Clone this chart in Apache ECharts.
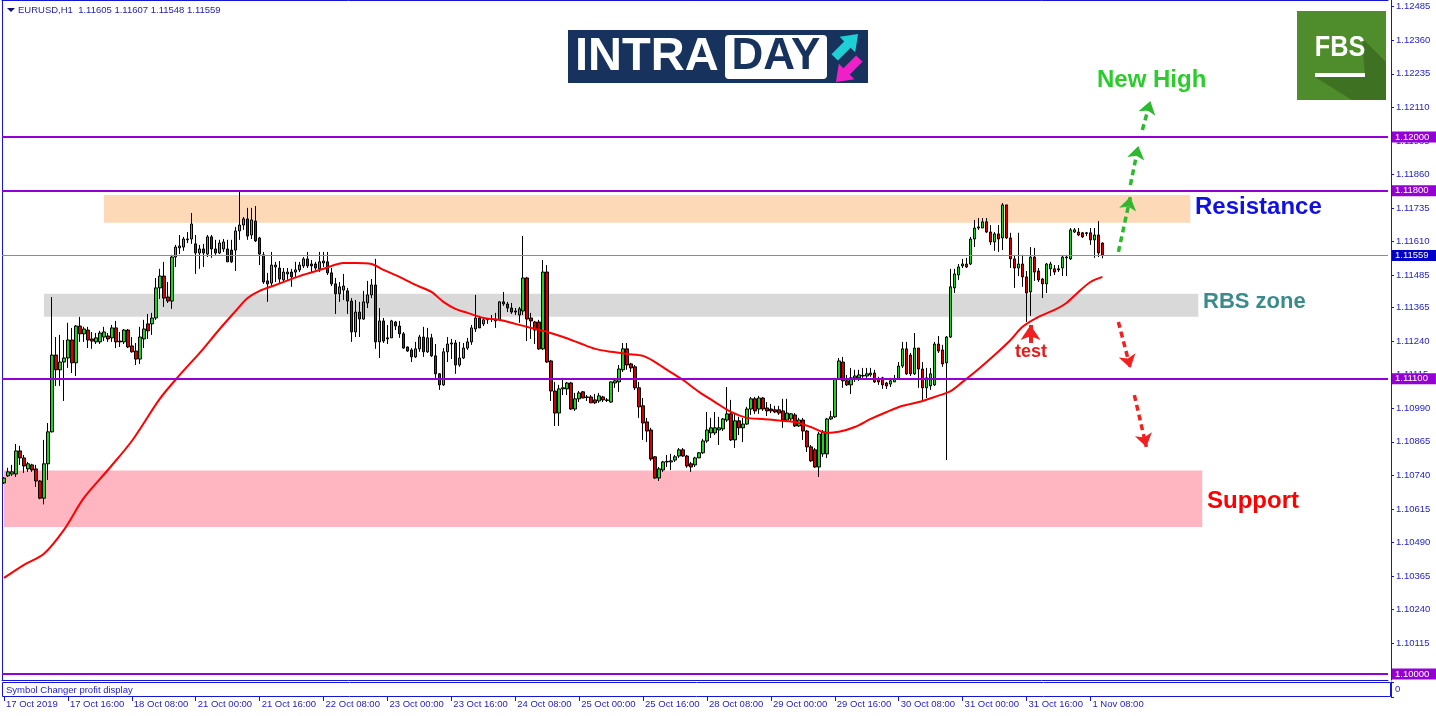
<!DOCTYPE html>
<html><head><meta charset="utf-8">
<script src="https://cdn.jsdelivr.net/npm/echarts@6/dist/echarts.min.js"></script>
<style>html,body{margin:0;padding:0;background:#fff}#c{width:1436px;height:716px}</style>
</head><body><div id="c"></div>
<script>
// ---------------- DATA ----------------
const symbolTitle = 'EURUSD,H1  1.11605 1.11607 1.11548 1.11559';
const tradingDays = ['17 Oct','18 Oct','21 Oct','22 Oct','23 Oct','24 Oct','25 Oct','28 Oct','29 Oct','30 Oct','31 Oct','1 Nov','4 Nov','5 Nov','6 Nov'];
const firstLabel = '17 Oct 2019';
// [open, close, low, high]
const candles = [
[1.10712,1.10730,1.10708,1.10734],[1.10738,1.10753,1.10734,1.10768],[1.10745,1.10753,1.10738,1.10779],[1.10745,1.10831,1.10734,1.10857],[1.10831,1.10805,1.10779,1.10850],
[1.10805,1.10775,1.10749,1.10816],[1.10764,1.10783,1.10753,1.10790],[1.10779,1.10760,1.10753,1.10783],[1.10764,1.10719,1.10697,1.10779],[1.10719,1.10655,1.10651,1.10723],
[1.10655,1.10783,1.10632,1.10872],[1.10783,1.10902,1.10723,1.10935],[1.10902,1.11188,1.10900,1.11404],[1.11188,1.11133,1.11073,1.11255],[1.11133,1.11162,1.11073,1.11263],
[1.11162,1.11177,1.11017,1.11244],[1.11177,1.11244,1.11140,1.11308],[1.11244,1.11159,1.11121,1.11289],[1.11159,1.11296,1.11110,1.11300],[1.11296,1.11267,1.11237,1.11330],
[1.11267,1.11285,1.11237,1.11293],[1.11281,1.11244,1.11214,1.11293],[1.11248,1.11240,1.11211,1.11274],[1.11237,1.11252,1.11229,1.11270],[1.11237,1.11270,1.11229,1.11278],
[1.11255,1.11274,1.11240,1.11293],[1.11259,1.11248,1.11237,1.11270],[1.11252,1.11289,1.11237,1.11300],[1.11289,1.11237,1.11214,1.11315],[1.11240,1.11237,1.11218,1.11274],
[1.11237,1.11281,1.11229,1.11285],[1.11281,1.11218,1.11214,1.11285],[1.11222,1.11200,1.11197,1.11255],[1.11203,1.11173,1.11151,1.11233],[1.11173,1.11255,1.11155,1.11293],
[1.11248,1.11285,1.11214,1.11319],[1.11304,1.11278,1.11248,1.11341],[1.11304,1.11326,1.11263,1.11345],[1.11326,1.11438,1.11319,1.11475],[1.11438,1.11482,1.11397,1.11509],
[1.11482,1.11400,1.11367,1.11535],[1.11404,1.11389,1.11382,1.11460],[1.11389,1.11553,1.11360,1.11561],[1.11553,1.11590,1.11516,1.11598],[1.11587,1.11594,1.11564,1.11635],
[1.11590,1.11620,1.11576,1.11628],[1.11617,1.11620,1.11605,1.11646],[1.11620,1.11676,1.11602,1.11717],[1.11602,1.11568,1.11490,1.11635],[1.11568,1.11583,1.11509,1.11598],
[1.11583,1.11568,1.11516,1.11602],[1.11564,1.11628,1.11553,1.11635],[1.11628,1.11583,1.11550,1.11635],[1.11583,1.11568,1.11561,1.11617],[1.11568,1.11605,1.11564,1.11617],
[1.11583,1.11609,1.11572,1.11620],[1.11583,1.11535,1.11535,1.11617],[1.11579,1.11535,1.11531,1.11617],[1.11579,1.11650,1.11501,1.11665],[1.11650,1.11672,1.11617,1.11795],
[1.11672,1.11695,1.11654,1.11702],[1.11695,1.11631,1.11617,1.11736],[1.11635,1.11691,1.11620,1.11736],[1.11687,1.11613,1.11609,1.11743],[1.11624,1.11564,1.11523,1.11628],
[1.11561,1.11460,1.11453,1.11572],[1.11464,1.11453,1.11386,1.11494],[1.11456,1.11523,1.11442,1.11572],[1.11516,1.11523,1.11460,1.11535],[1.11512,1.11471,1.11456,1.11538],
[1.11468,1.11497,1.11460,1.11512],[1.11490,1.11497,1.11468,1.11512],[1.11497,1.11479,1.11442,1.11509],[1.11497,1.11505,1.11479,1.11535],[1.11505,1.11523,1.11497,1.11535],
[1.11520,1.11546,1.11512,1.11553],[1.11546,1.11520,1.11512,1.11572],[1.11527,1.11520,1.11497,1.11542],[1.11527,1.11512,1.11505,1.11535],[1.11509,1.11535,1.11497,1.11572],
[1.11531,1.11538,1.11516,1.11572],[1.11535,1.11494,1.11486,1.11572],[1.11494,1.11453,1.11445,1.11512],[1.11453,1.11416,1.11341,1.11475],[1.11416,1.11442,1.11386,1.11460],
[1.11430,1.11445,1.11393,1.11490],[1.11427,1.11389,1.11341,1.11438],[1.11389,1.11274,1.11237,1.11400],[1.11274,1.11348,1.11255,1.11393],[1.11348,1.11322,1.11255,1.11386],
[1.11322,1.11386,1.11319,1.11427],[1.11382,1.11412,1.11363,1.11464],[1.11412,1.11449,1.11400,1.11471],[1.11449,1.11237,1.11211,1.11546],[1.11237,1.11315,1.11177,1.11363],
[1.11315,1.11240,1.11233,1.11326],[1.11252,1.11248,1.11229,1.11300],[1.11252,1.11315,1.11252,1.11319],[1.11311,1.11296,1.11281,1.11315],[1.11296,1.11267,1.11252,1.11315],
[1.11267,1.11214,1.11211,1.11274],[1.11218,1.11203,1.11200,1.11220],[1.11207,1.11181,1.11162,1.11214],[1.11181,1.11211,1.11177,1.11237],[1.11211,1.11255,1.11200,1.11263],
[1.11255,1.11200,1.11181,1.11293],[1.11200,1.11252,1.11196,1.11289],[1.11252,1.11185,1.11181,1.11267],[1.11185,1.11118,1.11103,1.11229],[1.11118,1.11077,1.11058,1.11121],
[1.11077,1.11200,1.11073,1.11214],[1.11200,1.11229,1.11162,1.11255],[1.11229,1.11233,1.11173,1.11248],[1.11233,1.11151,1.11118,1.11244],[1.11151,1.11177,1.11144,1.11237],
[1.11177,1.11214,1.11173,1.11233],[1.11214,1.11237,1.11207,1.11252],[1.11237,1.11289,1.11226,1.11300],[1.11285,1.11326,1.11274,1.11412],[1.11326,1.11289,1.11289,1.11334],
[1.11304,1.11319,1.11296,1.11330],[1.11322,1.11319,1.11304,1.11326],[1.11322,1.11322,1.11311,1.11337],[1.11322,1.11315,1.11289,1.11345],[1.11319,1.11386,1.11315,1.11389],
[1.11386,1.11378,1.11371,1.11423],[1.11378,1.11363,1.11348,1.11386],[1.11363,1.11348,1.11341,1.11382],[1.11352,1.11348,1.11337,1.11363],[1.11337,1.11360,1.11308,1.11367],
[1.11352,1.11475,1.11337,1.11631],[1.11475,1.11322,1.11240,1.11479],[1.11326,1.11315,1.11248,1.11345],[1.11311,1.11281,1.11229,1.11315],[1.11311,1.11211,1.11207,1.11319],
[1.11211,1.11497,1.11207,1.11542],[1.11497,1.11162,1.11159,1.11523],[1.11166,1.11054,1.11017,1.11170],[1.11054,1.10972,1.10924,1.11088],[1.10972,1.11062,1.10924,1.11077],
[1.11062,1.11066,1.11039,1.11103],[1.11062,1.11084,1.11039,1.11088],[1.11084,1.10987,1.10984,1.11088],[1.10987,1.11025,1.10980,1.11047],[1.11025,1.11047,1.11013,1.11054],
[1.11051,1.11028,1.11028,1.11054],[1.11032,1.11030,1.11017,1.11039],[1.11032,1.11010,1.11010,1.11039],[1.11021,1.11010,1.11006,1.11043],[1.11017,1.11036,1.11010,1.11047],
[1.11032,1.11021,1.11013,1.11036],[1.11021,1.11019,1.11013,1.11028],[1.11013,1.11088,1.11010,1.11090],[1.11084,1.11092,1.11066,1.11095],[1.11088,1.11136,1.11051,1.11151],
[1.11133,1.11211,1.11125,1.11233],[1.11211,1.11151,1.11133,1.11233],[1.11155,1.11140,1.11125,1.11159],[1.11144,1.11066,1.11058,1.11151],[1.11066,1.10995,1.10954,1.11088],
[1.10999,1.10935,1.10872,1.11028],[1.10939,1.10905,1.10864,1.10954],[1.10909,1.10801,1.10794,1.10917],[1.10809,1.10730,1.10727,1.10812],[1.10730,1.10764,1.10719,1.10771],
[1.10760,1.10790,1.10753,1.10794],[1.10790,1.10792,1.10771,1.10816],[1.10790,1.10794,1.10760,1.10820],[1.10797,1.10809,1.10790,1.10816],[1.10812,1.10835,1.10805,1.10842],
[1.10835,1.10812,1.10809,1.10842],[1.10812,1.10775,1.10768,1.10816],[1.10783,1.10771,1.10753,1.10790],[1.10779,1.10805,1.10771,1.10809],[1.10805,1.10824,1.10805,1.10827],
[1.10824,1.10868,1.10820,1.10876],[1.10868,1.10909,1.10861,1.10976],[1.10898,1.10917,1.10879,1.10954],[1.10898,1.10917,1.10890,1.10976],[1.10909,1.10917,1.10853,1.10958],
[1.10913,1.10950,1.10905,1.10954],[1.10946,1.10969,1.10939,1.11069],[1.10969,1.10872,1.10868,1.11021],[1.10872,1.10943,1.10842,1.10969],[1.10943,1.10917,1.10890,1.10958],
[1.10917,1.10931,1.10864,1.10954],[1.10931,1.10987,1.10928,1.10995],[1.10987,1.11025,1.10965,1.11032],[1.11025,1.10980,1.10969,1.11032],[1.10987,1.11028,1.10969,1.11036],
[1.11028,1.10987,1.10980,1.11032],[1.10991,1.10980,1.10961,1.11013],[1.10987,1.10980,1.10972,1.11006],[1.10984,1.10976,1.10972,1.10999],[1.10984,1.10972,1.10965,1.10999],
[1.10980,1.10946,1.10917,1.11025],[1.10946,1.10972,1.10939,1.11025],[1.10950,1.10969,1.10939,1.10972],[1.10965,1.10924,1.10920,1.10972],[1.10924,1.10946,1.10920,1.10954],
[1.10946,1.10905,1.10872,1.10954],[1.10905,1.10846,1.10827,1.10909],[1.10846,1.10794,1.10790,1.10853],[1.10835,1.10771,1.10768,1.10842],[1.10771,1.10894,1.10734,1.10902],
[1.10820,1.10902,1.10809,1.10909],[1.10820,1.10950,1.10805,1.10954],[1.10950,1.10958,1.10946,1.10980],[1.10958,1.11099,1.10954,1.11103],[1.11099,1.11166,1.11095,1.11177],
[1.11162,1.11092,1.11066,1.11181],[1.11092,1.11077,1.11073,1.11114],[1.11077,1.11103,1.11043,1.11140],[1.11103,1.11110,1.11088,1.11133],[1.11103,1.11114,1.11092,1.11133],
[1.11110,1.11112,1.11103,1.11140],[1.11110,1.11118,1.11103,1.11140],[1.11114,1.11121,1.11107,1.11140],[1.11121,1.11088,1.11084,1.11133],[1.11099,1.11088,1.11077,1.11107],
[1.11103,1.11077,1.11062,1.11107],[1.11084,1.11073,1.11062,1.11088],[1.11080,1.11092,1.11069,1.11103],[1.11088,1.11099,1.11088,1.11114],[1.11099,1.11147,1.11095,1.11162],
[1.11147,1.11211,1.11140,1.11237],[1.11211,1.11118,1.11114,1.11237],[1.11188,1.11118,1.11110,1.11196],[1.11118,1.11214,1.11114,1.11270],[1.11214,1.11136,1.11066,1.11214],
[1.11136,1.11066,1.11021,1.11162],[1.11066,1.11103,1.11028,1.11140],[1.11073,1.11118,1.11058,1.11140],[1.11077,1.11229,1.11073,1.11237],[1.11229,1.11203,1.11196,1.11259],
[1.11207,1.11155,1.11144,1.11226],[1.11159,1.11255,1.10797,1.11259],[1.11255,1.11442,1.11252,1.11509],[1.11438,1.11490,1.11419,1.11509],[1.11486,1.11516,1.11468,1.11527],
[1.11520,1.11527,1.11512,1.11546],[1.11527,1.11516,1.11512,1.11550],[1.11527,1.11620,1.11523,1.11628],[1.11620,1.11661,1.11590,1.11691],[1.11661,1.11665,1.11654,1.11698],
[1.11661,1.11684,1.11661,1.11698],[1.11684,1.11646,1.11643,1.11698],[1.11646,1.11609,1.11598,1.11672],[1.11609,1.11639,1.11576,1.11646],[1.11639,1.11620,1.11572,1.11672],
[1.11624,1.11747,1.11579,1.11754],[1.11747,1.11624,1.11620,1.11747],[1.11624,1.11546,1.11512,1.11643],[1.11546,1.11512,1.11438,1.11561],[1.11512,1.11527,1.11482,1.11643],
[1.11527,1.11479,1.11442,1.11561],[1.11479,1.11419,1.11311,1.11501],[1.11423,1.11553,1.11334,1.11590],[1.11553,1.11497,1.11464,1.11587],[1.11501,1.11468,1.11460,1.11512],
[1.11471,1.11453,1.11400,1.11475],[1.11453,1.11527,1.11419,1.11531],[1.11509,1.11527,1.11482,1.11535],[1.11509,1.11497,1.11486,1.11523],[1.11505,1.11509,1.11497,1.11523],
[1.11512,1.11553,1.11482,1.11561],[1.11550,1.11553,1.11482,1.11561],[1.11546,1.11654,1.11542,1.11661],[1.11646,1.11654,1.11643,1.11661],[1.11646,1.11635,1.11631,1.11661],
[1.11643,1.11628,1.11624,1.11646],[1.11643,1.11641,1.11631,1.11646],[1.11643,1.11617,1.11598,1.11661],[1.11617,1.11635,1.11550,1.11661],[1.11635,1.11568,1.11553,1.11687],
[1.11605,1.11559,1.11548,1.11607]
];
// moving average read at sampled bars: [bar index, value]
const movingAverage = [
[0,1.10358],[5,1.10407],[10,1.10448],[15,1.10537],[20,1.10656],[26,1.10760],[32,1.10868],[39,1.11025],[44,1.11114],[49,1.11196],
[54,1.11285],[58,1.11352],[61,1.11400],[64,1.11427],[68,1.11449],[74,1.11482],[80,1.11509],[85,1.11531],[88,1.11531],[92,1.11527],
[95,1.11505],[99,1.11479],[103,1.11449],[107,1.11423],[110,1.11386],[113,1.11360],[116,1.11345],[120,1.11326],[124,1.11319],[128,1.11304],
[132,1.11289],[136,1.11274],[140,1.11255],[144,1.11233],[148,1.11211],[152,1.11200],[156,1.11192],[160,1.11185],[163,1.11162],[166,1.11133],
[170,1.11095],[174,1.11051],[178,1.11013],[182,1.10976],[186,1.10954],[190,1.10950],[194,1.10944],[198,1.10939],[202,1.10920],[206,1.10898],
[209,1.10902],[213,1.10920],[217,1.10950],[221,1.10976],[225,1.10999],[229,1.11013],[233,1.11032],[237,1.11054],[240,1.11088],[244,1.11136],
[248,1.11188],[252,1.11244],[255,1.11293],[259,1.11330],[263,1.11356],[266,1.11382],[269,1.11423],[272,1.11460],[275,1.11479]
];
const priceTicks = [1.09990,1.10115,1.10240,1.10365,1.10490,1.10615,1.10740,1.10865,1.10990,1.11115,1.11240,1.11365,1.11485,1.11610,1.11735,1.11860,1.11985,1.12110,1.12235,1.12360,1.12485];
const levelLines = [1.12000, 1.11800, 1.11100, 1.10000];
const bidPrice = 1.11559;
const resistanceZone = [25, 297, 1.11681, 1.11784];
const rbsZone = [10, 299, 1.11331, 1.11416];
const supportZone = [-0.5, 300, 1.10548, 1.10758];
const greenArrows = [[278.9,1.11572,281.7,1.11777],[282.2,1.11821,284.2,1.11966],[284.9,1.12026,287.2,1.12134]];
const redArrows = [[278.9,1.11311,281.9,1.11140],[282.9,1.11039,285.9,1.10846]];
const testArrow = [257.1,1.11233,257.1,1.11300];

// ---------------- BUILD ----------------
const SLOTS = 347;
const categories = [];
tradingDays.forEach(d => { for (let h = 0; h < 24; h++) categories.push(d + ' ' + (h < 10 ? '0' : '') + h + ':00'); });
categories.length = SLOTS;

const BLUE = '#1515d8';
const TXT = '#2424c4';
const labelFilter = (i) => i % 16 === 0 && i < candles.length;
const fontFam = '"Liberation Sans", Arial, sans-serif';
const Y_MIN = 1.09978, Y_MAX = 1.12510;

function zone(z, color) {
  return [{ xAxis: z[0], yAxis: z[3], itemStyle: { color: color } }, { xAxis: z[1], yAxis: z[2] }];
}
function arrow(a, color, width, dash, size) {
  return [{ coord: [a[0], a[1]], symbol: 'none' },
          { coord: [a[2], a[3]], symbol: 'arrow', symbolSize: size,
            lineStyle: { color: color, width: width, type: dash } }];
}

const levelLabel = (v, bg) => ({ show: true, position: 'end', distance: 4, formatter: v.toFixed(5), color: '#fff',
  backgroundColor: bg, padding: [1, 8, 0, 3], fontSize: 9.5, fontFamily: fontFam });
const levelData = levelLines.map(v => ({
  yAxis: v, lineStyle: { color: '#9400d3', width: 2, type: 'solid' }, label: levelLabel(v, '#9400d3')
}));
levelData.push({ yAxis: bidPrice, lineStyle: { color: '#8c8c8c', width: 1, type: 'solid' }, label: levelLabel(bidPrice, '#0000c8') });

const arrowData = [];
greenArrows.forEach(a => arrowData.push(arrow(a, '#2db82d', 3.5, [6, 4], 13)));
redArrows.forEach(a => arrowData.push(arrow(a, '#f02020', 3.5, [6, 4], 13)));
arrowData.push(arrow(testArrow, '#f02020', 4, 'solid', 15));

const hiddenAxis = { axisTick: { show: false }, axisLabel: { show: false }, splitLine: { show: false } };

const option = {
  animation: false,
  backgroundColor: '#ffffff',
  grid: [
    { left: 2, top: 0, width: 1386, height: 680, show: false },
    { left: 2, top: 682, width: 1386, height: 15, show: false }
  ],
  xAxis: [
    Object.assign({ type: 'category', gridIndex: 0, data: categories, boundaryGap: true, position: 'bottom',
      axisLine: { show: true, onZero: false, lineStyle: { color: BLUE } } }, hiddenAxis),
    { type: 'category', gridIndex: 1, data: categories, boundaryGap: true, position: 'bottom',
      axisLine: { show: false, onZero: false },
      axisTick: { show: true, alignWithLabel: true, interval: labelFilter, length: 4, lineStyle: { color: BLUE } },
      axisLabel: { show: true, interval: labelFilter, align: 'left', margin: 2, padding: [0, 0, 0, 2],
        color: TXT, fontSize: 9.5, fontFamily: fontFam,
        formatter: (v, i) => i === 0 ? firstLabel : v },
      splitLine: { show: false } },
    Object.assign({ type: 'category', gridIndex: 0, data: categories, boundaryGap: true, position: 'top',
      axisLine: { show: true, onZero: false, lineStyle: { color: BLUE } } }, hiddenAxis)
  ],
  yAxis: [
    { type: 'value', gridIndex: 0, position: 'right', offset: 3, min: Y_MIN, max: Y_MAX,
      axisLine: { show: true, onZero: false, lineStyle: { color: BLUE } },
      axisTick: { show: true, length: 3, lineStyle: { color: BLUE }, customValues: priceTicks },
      axisLabel: { show: true, customValues: priceTicks, formatter: v => v.toFixed(5), color: TXT,
        fontSize: 9.5, fontFamily: fontFam, margin: 5 },
      splitLine: { show: false } },
    { type: 'value', gridIndex: 1, position: 'right', offset: 3, min: -1, max: 1,
      axisLine: { show: true, onZero: false, lineStyle: { color: BLUE } },
      axisTick: { show: true, length: 3, lineStyle: { color: BLUE }, customValues: [-1, 1] },
      axisLabel: { show: true, customValues: [0], formatter: () => '0', color: TXT, fontSize: 9.5, fontFamily: fontFam, margin: 4 },
      splitLine: { show: false } },
    Object.assign({ type: 'value', gridIndex: 0, position: 'left', min: Y_MIN, max: Y_MAX,
      axisLine: { show: true, onZero: false, lineStyle: { color: BLUE } } }, hiddenAxis)
  ],
  series: [
    { name: 'zones', type: 'line', xAxisIndex: 0, yAxisIndex: 0, data: [], z: 1, silent: true,
      markArea: { silent: true, label: { show: false }, precision: 5,
        data: [zone(resistanceZone, '#fdd9b8'), zone(rbsZone, '#d9d9d9'), zone(supportZone, '#ffb6c1')] } },
    { name: 'levels', type: 'line', xAxisIndex: 0, yAxisIndex: 0, data: [], z: 2, silent: true,
      markLine: { silent: true, precision: 5, symbol: ['none', 'none'], animation: false, data: levelData } },
    { name: 'EURUSD', type: 'candlestick', xAxisIndex: 0, yAxisIndex: 0, data: candles, z: 3,
      barWidth: 3, silent: true,
      itemStyle: { color: '#1ed21e', color0: '#d40000', borderColor: '#000000', borderColor0: '#000000', borderWidth: 1 } },
    { name: 'MA', type: 'line', xAxisIndex: 0, yAxisIndex: 0, data: movingAverage, z: 4, silent: true,
      showSymbol: false, smooth: 0.3, lineStyle: { color: '#ff0000', width: 2 } },
    { name: 'arrows', type: 'line', xAxisIndex: 0, yAxisIndex: 0, data: [], z: 5, silent: true,
      markLine: { silent: true, precision: 5, symbol: ['none', 'arrow'], label: { show: false }, animation: false, data: arrowData } }
  ],
  graphic: [
    { type: 'polygon', shape: { points: [[7, 8], [15, 8], [11, 12]] }, style: { fill: '#10107a' } },
    { type: 'text', x: 18, y: 10, style: { text: symbolTitle, font: '9.5px ' + fontFam, fill: '#1e1ea8', textVerticalAlign: 'middle' } },
    // sub-window frame
    { type: 'rect', shape: { x: 2.5, y: 682.5, width: 1388, height: 14 }, style: { fill: 'none', stroke: BLUE, lineWidth: 1 } },
    { type: 'text', x: 6, y: 690, style: { text: 'Symbol Changer profit display', font: '9.5px ' + fontFam, fill: TXT, textVerticalAlign: 'middle' } },
    // INTRADAY logo
    { type: 'group', children: [
      { type: 'rect', shape: { x: 568, y: 30, width: 300, height: 53 }, style: { fill: '#17335d' } },
      { type: 'text', x: 575, y: 57, style: { text: 'INTRA', font: 'bold 47px ' + fontFam, fill: '#ffffff', textVerticalAlign: 'middle' } },
      { type: 'rect', shape: { x: 725, y: 35, width: 102, height: 44, r: 4 }, style: { fill: '#ffffff' } },
      { type: 'text', x: 776, y: 57, style: { text: 'DAY', font: 'bold 44px ' + fontFam, fill: '#17335d', textAlign: 'center', textVerticalAlign: 'middle' } },
      { type: 'polygon', x: 846, y: 46, rotation: Math.PI / 4,
        shape: { points: [[-16, -4.5], [2, -4.5], [2, -11], [17, 0], [2, 11], [2, 4.5], [-16, 4.5]] }, style: { fill: '#1fcfd6' } },
      { type: 'polygon', x: 848, y: 70, rotation: Math.PI * 5 / 4,
        shape: { points: [[-16, -4.5], [2, -4.5], [2, -11], [17, 0], [2, 11], [2, 4.5], [-16, 4.5]] }, style: { fill: '#f020c8' } }
    ] },
    // FBS logo
    { type: 'group', children: [
      { type: 'rect', shape: { x: 1297, y: 11, width: 89, height: 89 }, style: { fill: '#4f8c2c' } },
      { type: 'polygon', shape: { points: [[1362, 38], [1386, 62], [1386, 100], [1352, 100], [1315, 77], [1365, 77]] }, style: { fill: '#3e7222' } },
      { type: 'text', x: 1340, y: 48, scaleX: 0.84,
        style: { text: 'FBS', font: 'bold 30px ' + fontFam, fill: '#ffffff', textAlign: 'center', textVerticalAlign: 'middle' } },
      { type: 'rect', shape: { x: 1315, y: 73, width: 50, height: 4 }, style: { fill: '#ffffff' } }
    ] },
    // annotations
    { type: 'text', x: 1097, y: 80, style: { text: 'New High', font: 'bold 24px ' + fontFam, fill: '#2dcc2d', textVerticalAlign: 'middle' } },
    { type: 'text', x: 1195, y: 207, style: { text: 'Resistance', font: 'bold 24px ' + fontFam, fill: '#1010e6', textVerticalAlign: 'middle' } },
    { type: 'text', x: 1203, y: 302, style: { text: 'RBS zone', font: 'bold 22px ' + fontFam, fill: '#3b8b8b', textVerticalAlign: 'middle' } },
    { type: 'text', x: 1207, y: 501, style: { text: 'Support', font: 'bold 24px ' + fontFam, fill: '#ff0000', textVerticalAlign: 'middle' } },
    { type: 'text', x: 1015, y: 352, style: { text: 'test', font: 'bold 18px ' + fontFam, fill: '#e81a1a', textVerticalAlign: 'middle' } }
  ]
};

const chart = echarts.init(document.getElementById('c'), null, { renderer: 'canvas', width: 1436, height: 716 });
chart.setOption(option);
</script>
</body></html>
